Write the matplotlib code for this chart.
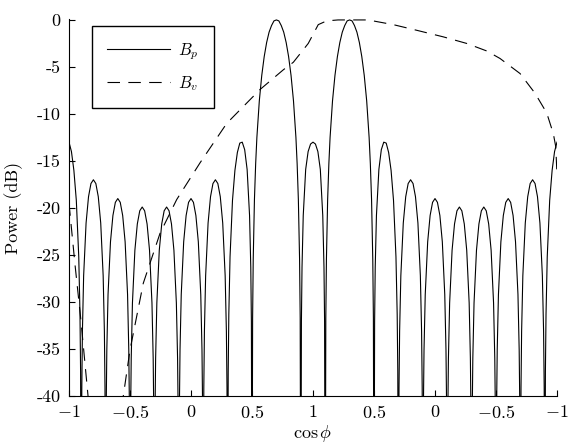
import numpy as np
import matplotlib.pyplot as plt

plt.rcParams['font.family'] = 'cmr10'
plt.rcParams['mathtext.fontset'] = 'cm'
plt.rcParams['axes.unicode_minus'] = False
plt.rcParams['lines.scale_dashes'] = False

bp_cos = [-1.0, -0.98, -0.96, -0.94, -0.92, -0.91, -0.905, -0.9,
          -0.895, -0.89, -0.88, -0.86, -0.84, -0.82, -0.8, -0.78, -0.76, -0.74, -0.72, -0.71, -0.705, -0.7,
          -0.695, -0.69, -0.68, -0.66, -0.64, -0.62, -0.6, -0.58, -0.56, -0.54, -0.52, -0.51, -0.505, -0.5,
          -0.495, -0.49, -0.48, -0.46, -0.44, -0.42, -0.4, -0.38, -0.36, -0.34, -0.32, -0.31, -0.305, -0.3,
          -0.295, -0.29, -0.28, -0.26, -0.24, -0.22, -0.2, -0.18, -0.16, -0.14, -0.12, -0.11, -0.105, -0.1,
          -0.095, -0.09, -0.08, -0.06, -0.04, -0.02, 0.0, 0.02, 0.04, 0.06, 0.08, 0.09, 0.095, 0.1,
          0.105, 0.11, 0.12, 0.14, 0.16, 0.18, 0.2, 0.22, 0.24, 0.26, 0.28, 0.29, 0.295, 0.3,
          0.305, 0.31, 0.32, 0.34, 0.36, 0.38, 0.4, 0.42, 0.44, 0.46, 0.48, 0.49, 0.495, 0.5,
          0.505, 0.51, 0.52, 0.53, 0.54, 0.56, 0.58, 0.6, 0.62, 0.64, 0.66, 0.68, 0.7,
          0.72, 0.74, 0.76, 0.78, 0.8, 0.82, 0.84, 0.86, 0.87, 0.88, 0.89, 0.895, 0.9,
          0.905, 0.91, 0.92, 0.94, 0.96, 0.98, 1.0]
bp_db = [-13.0, -14.0, -16.0, -19.2, -25.2, -31.3, -37.4, -60,
         -39.1, -33.1, -27.2, -21.6, -18.8, -17.4, -17.0, -17.4, -18.8, -21.6, -27.2, -33.1, -39.1, -60,
         -41.1, -35.1, -29.2, -23.6, -20.8, -19.4, -19.0, -19.4, -20.8, -23.6, -29.2, -35.1, -41.1, -60,
         -42.0, -36.0, -30.1, -24.5, -21.7, -20.3, -19.9, -20.3, -21.7, -24.5, -30.1, -36.0, -42.0, -60,
         -42.0, -36.0, -30.1, -24.5, -21.7, -20.3, -19.9, -20.3, -21.7, -24.5, -30.1, -36.0, -42.0, -60,
         -41.1, -35.1, -29.2, -23.6, -20.8, -19.4, -19.0, -19.4, -20.8, -23.6, -29.2, -35.1, -41.1, -60,
         -39.1, -33.1, -27.2, -21.6, -18.8, -17.4, -17.0, -17.4, -18.8, -21.6, -27.2, -33.1, -39.1, -60,
         -37.4, -31.3, -25.2, -19.2, -16.0, -14.1, -13.1, -13.0, -13.8, -15.9, -20.8, -26.3, -32.1, -60,
         -31.7, -25.5, -19.1, -15.3, -12.5, -8.6, -5.9, -3.9, -2.4, -1.3, -0.6, -0.1, 0.0,
         -0.1, -0.6, -1.3, -2.4, -3.9, -5.9, -8.6, -12.5, -15.3, -19.1, -25.5, -31.7, -60,
         -32.1, -26.3, -20.8, -15.9, -14.0, -13.2, -13.0]

# B_v along the unfolded axis (-1 .. 1 .. -1 drawn as -1 .. 3)
bv_pos = [-1.0, -0.951, -0.902, -0.844, -0.787, -0.664, -0.582, -0.555, -0.5, -0.391, -0.254, -0.117,
          0.074, 0.293, 0.566, 0.757, 0.839, 0.961, 1.043, 1.112, 1.205, 1.369, 1.451, 1.533, 1.658,
          1.85, 2.068, 2.26, 2.424, 2.533, 2.697, 2.82, 2.916, 2.97, 2.99, 3.0]
bv_db = [-19.5, -26.0, -32.0, -40.0, -47.0, -55.0, -45.0, -40.0, -35.1, -28.0, -22.7, -19.1,
         -15.2, -11.0, -7.4, -5.3, -4.5, -2.5, -0.5, -0.1, 0.0, 0.0, 0.0, -0.2, -0.5,
         -1.1, -1.8, -2.5, -3.3, -4.1, -5.7, -7.8, -9.9, -12.1, -13.5, -16.5]

xtick_labels = ['$-1$', '$-0.5$', '$0$', '$0.5$', '$1$', '$0.5$', '$0$', '$-0.5$', '$-1$']
ytick_labels = ['-40', '-35', '-30', '-25', '-20', '-15', '-10', '-5', '0']

bp_cos = np.asarray(bp_cos)
bp_db = np.asarray(bp_db)
xp = np.concatenate([bp_cos, 2 - bp_cos[::-1]])
yp = np.concatenate([bp_db, bp_db[::-1]])

fig = plt.figure(figsize=(5.7, 4.48), dpi=100)
ax = fig.add_axes([69/570, 1-396/448, 488/570, 377/448])

ax.plot(xp, yp, color='k', lw=0.8, label=r'$B_p$')
ax.plot(bv_pos, bv_db, color='k', lw=0.8, dashes=(9, 6), label=r'$B_v$')

ax.set_xlim(-1, 3)
ax.set_ylim(-40, 0.1)
ax.set_xticks(np.arange(-1, 3.01, 0.5))
ax.set_xticklabels(xtick_labels)
ax.set_yticks(np.arange(-40, 1, 5))
ax.set_yticklabels(ytick_labels)
ax.spines['top'].set_visible(False)
ax.spines['right'].set_visible(False)
ax.tick_params(direction='in', length=4, labelsize=13, pad=6)
ax.set_xlabel(r'$\cos\phi$', fontsize=13, labelpad=1)
ax.set_ylabel('Power (dB)', fontsize=13, labelpad=10)

leg = ax.legend(loc='upper left', bbox_to_anchor=(91.7/570, 1-26/448), bbox_transform=fig.transFigure,
                borderaxespad=0, fontsize=12, fancybox=False, edgecolor='k', framealpha=1,
                handlelength=3.8, handletextpad=0.5, labelspacing=0.75, borderpad=0.9)
leg.get_frame().set_linewidth(1.0)

plt.savefig('out.png', dpi=100)
